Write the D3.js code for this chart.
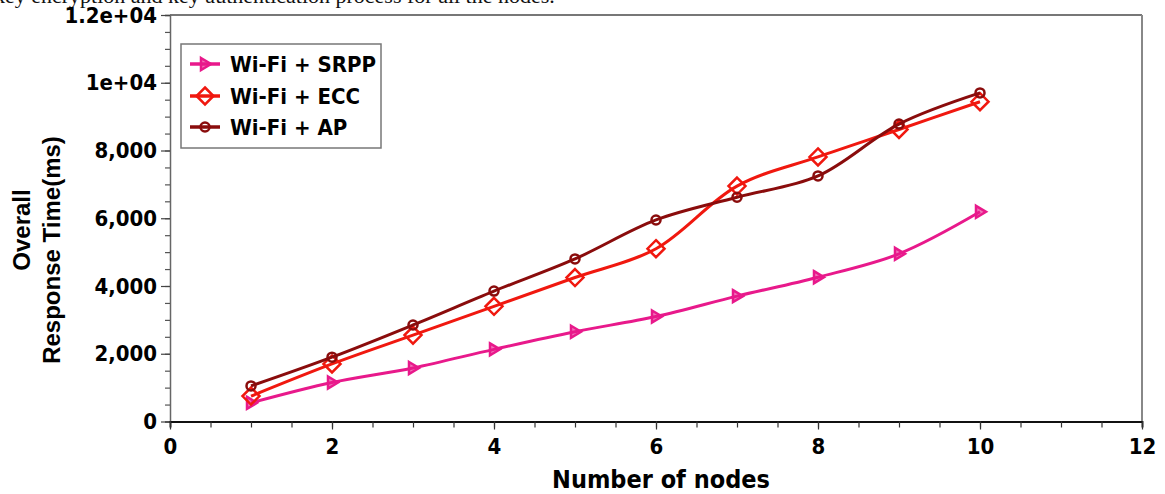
<!DOCTYPE html>
<html>
<head>
<meta charset="utf-8">
<script src="https://cdn.jsdelivr.net/npm/d3@7"></script>
<style>
  body { margin: 0; background: #fff; }
  svg { display: block; }
</style>
</head>
<body>
<div id="container"></div>
<script>
var nodes = [1, 2, 3, 4, 5, 6, 7, 8, 9, 10]
var srpp = [550, 1150, 1580, 2130, 2650, 3100, 3700, 4260, 4950, 6190]
var ecc = [750, 1700, 2550, 3400, 4250, 5100, 6950, 7810, 8620, 9440]
var ap = [1050, 1900, 2850, 3850, 4800, 5950, 6620, 7250, 8780, 9700]
var seriesNames = ['Wi-Fi + SRPP', 'Wi-Fi + ECC', 'Wi-Fi + AP']
var xTicks = [0, 2, 4, 6, 8, 10, 12]
var yTicks = [0, 2000, 4000, 6000, 8000, 10000, 12000]
var yTickLabels = ['0', '2,000', '4,000', '6,000', '8,000', '1e+04', '1.2e+04']

var WIDTH = 1165
var HEIGHT = 494

var svg = d3.select('div#container').append('svg')
  .attr('width', WIDTH)
  .attr('height', HEIGHT)

// cut off line of the paper text above the figure
svg.append('text')
  .attr('x', -6)
  .attr('y', 3)
  .attr('font-family', 'Liberation Serif, serif')
  .attr('font-size', 22)
  .attr('fill', '#111')
  .text('key encryption and key authentication process for all the nodes.')

var x = d3.scaleLinear().domain([0, 12]).range([170, 1142])
var y = d3.scaleLinear().domain([0, 12000]).range([421.5, 15])

var tickFont = 'DejaVu Sans Condensed, DejaVu Sans, sans-serif'

// frame top and right
svg.append('line')
  .attr('x1', x(0)).attr('x2', x(12))
  .attr('y1', y(12000)).attr('y2', y(12000))
  .attr('stroke', '#777').attr('stroke-width', 2)
svg.append('line')
  .attr('x1', x(12)).attr('x2', x(12))
  .attr('y1', y(12000)).attr('y2', y(0))
  .attr('stroke', '#888').attr('stroke-width', 2)

// y axis
var yAxis = svg.append('g')
  .attr('transform', 'translate(' + x(0) + ',0)')
  .call(d3.axisLeft(y).tickValues(d3.range(0, 12001, 500)).tickSize(5).tickFormat(''))
yAxis.select('.domain').attr('stroke', '#666').attr('stroke-width', 1.5)
yAxis.selectAll('.tick line').attr('stroke', '#555').attr('stroke-width', 1.2)

var yMajor = svg.append('g')
  .attr('transform', 'translate(' + x(0) + ',0)')
  .call(d3.axisLeft(y).tickValues(yTicks).tickSize(9).tickPadding(4)
    .tickFormat(function (d, i) { return yTickLabels[i] }))
yMajor.select('.domain').remove()
yMajor.selectAll('.tick line').attr('stroke', '#444').attr('stroke-width', 1.2)
yMajor.selectAll('.tick text')
  .attr('font-family', tickFont)
  .attr('font-weight', 'bold')
  .attr('font-size', 22)
  .attr('fill', '#000')

// x axis
var xAxis = svg.append('g')
  .attr('transform', 'translate(0,' + y(0) + ')')
  .call(d3.axisBottom(x).tickValues(d3.range(0, 12.01, 0.5)).tickSize(6).tickFormat(''))
xAxis.select('.domain').attr('stroke', '#111').attr('stroke-width', 1.8)
xAxis.selectAll('.tick line').attr('stroke', '#333').attr('stroke-width', 1.2)

var xMajor = svg.append('g')
  .attr('transform', 'translate(0,' + y(0) + ')')
  .call(d3.axisBottom(x).tickValues(xTicks).tickSize(8).tickPadding(9).tickFormat(d3.format('d')))
xMajor.select('.domain').remove()
xMajor.selectAll('.tick line').attr('stroke', '#333').attr('stroke-width', 1.2)
xMajor.selectAll('.tick text')
  .attr('font-family', tickFont)
  .attr('font-weight', 'bold')
  .attr('font-size', 22)
  .attr('fill', '#000')

// axis titles
svg.append('text')
  .attr('x', 661)
  .attr('y', 488)
  .attr('text-anchor', 'middle')
  .attr('font-family', tickFont)
  .attr('font-weight', 'bold')
  .attr('font-size', 25)
  .text('Number of nodes')

svg.append('text')
  .attr('transform', 'translate(30,230) rotate(-90)')
  .attr('text-anchor', 'middle')
  .attr('font-family', 'Liberation Sans, Arial, sans-serif')
  .attr('font-weight', 'bold')
  .attr('font-size', 24)
  .text('Overall')

svg.append('text')
  .attr('transform', 'translate(60,250) rotate(-90)')
  .attr('text-anchor', 'middle')
  .attr('font-family', 'Liberation Sans, Arial, sans-serif')
  .attr('font-weight', 'bold')
  .attr('font-size', 24)
  .text('Response Time(ms)')

// series
var colors = ['#e8198b', '#f0180f', '#8a0c0c']
var symbols = ['triangle', 'diamond', 'circle']
var allSeries = [srpp, ecc, ap]

var line = d3.line()
  .x(function (d) { return x(d[0]) })
  .y(function (d) { return y(d[1]) })
  .curve(d3.curveCatmullRom.alpha(0.5))

function drawMarker(g, kind, cx, cy, color) {
  if (kind === 'triangle') {
    g.append('path')
      .attr('d', 'M' + (cx - 4) + ',' + (cy - 6) + 'L' + (cx + 6) + ',' + cy + 'L' + (cx - 4) + ',' + (cy + 6) + 'Z')
      .attr('fill', color).attr('fill-opacity', 0.6)
      .attr('stroke', color).attr('stroke-width', 2.5)
  } else if (kind === 'diamond') {
    g.append('path')
      .attr('d', 'M' + cx + ',' + (cy - 8.5) + 'L' + (cx + 8.5) + ',' + cy + 'L' + cx + ',' + (cy + 8.5) + 'L' + (cx - 8.5) + ',' + cy + 'Z')
      .attr('fill', 'none')
      .attr('stroke', color).attr('stroke-width', 2.5)
  } else {
    g.append('circle')
      .attr('cx', cx).attr('cy', cy).attr('r', 4.5)
      .attr('fill', 'none')
      .attr('stroke', color).attr('stroke-width', 2.5)
  }
}

allSeries.forEach(function (vals, s) {
  var pts = nodes.map(function (n, i) { return [n, vals[i]] })
  var g = svg.append('g')
  g.append('path')
    .attr('d', line(pts))
    .attr('fill', 'none')
    .attr('stroke', colors[s])
    .attr('stroke-width', 3)
  pts.forEach(function (p) {
    drawMarker(g, symbols[s], x(p[0]), y(p[1]), colors[s])
  })
})

// legend
var legend = svg.append('g')
legend.append('rect')
  .attr('x', 181).attr('y', 44)
  .attr('width', 200).attr('height', 104)
  .attr('fill', '#fff')
  .attr('stroke', '#777').attr('stroke-width', 1.5)

var rowY = [64, 96, 127]
seriesNames.forEach(function (name, s) {
  legend.append('line')
    .attr('x1', 190).attr('x2', 220)
    .attr('y1', rowY[s]).attr('y2', rowY[s])
    .attr('stroke', colors[s]).attr('stroke-width', 3.5)
  drawMarker(legend, symbols[s], 205, rowY[s], colors[s])
  legend.append('text')
    .attr('x', 230)
    .attr('y', rowY[s] + 8)
    .attr('font-family', tickFont)
    .attr('font-weight', 'bold')
    .attr('font-size', 22)
    .text(name)
})
</script>
</body>
</html>
